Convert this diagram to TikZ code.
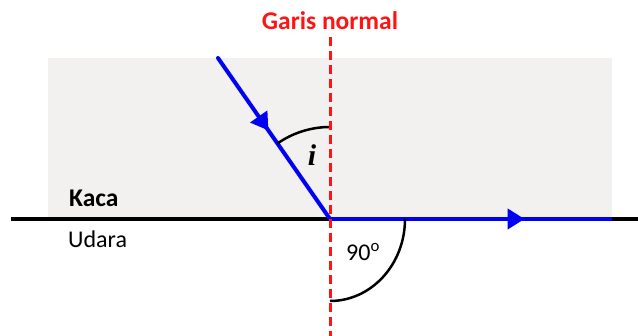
\documentclass[tikz,border=0pt]{standalone}
\usepackage{fontspec}
\setmainfont{Carlito}
\newfontfamily\mathitfont{Liberation Serif}
\usetikzlibrary{arrows.meta,decorations.markings,calc}
\definecolor{glass}{RGB}{242,241,240}
\definecolor{rayblue}{RGB}{0,0,245}
\definecolor{normred}{RGB}{255,20,20}
\begin{document}
\begin{tikzpicture}[x=1pt,y=1pt,
  ray/.style={draw=rayblue,line width=4pt},
  rayarrow/.style={postaction={decorate},decoration={markings,
     mark=at position #1 with {\arrow{Triangle[length=17pt,width=20pt]}}}},
  normalline/.style={draw=normred,line width=3pt,dash pattern=on 9pt off 5pt},
  anglearc/.style={draw=black,line width=2.5pt},
  lbl/.style={inner sep=0pt,font=\fontsize{24}{28}\selectfont}]
\useasboundingbox (0,0) rectangle (638,336);
\fill[glass] (48,117) rectangle (612,278);
\coordinate (O) at (330,117);
\coordinate (A) at (218,278);
\coordinate (L) at (11,117);
\coordinate (R) at (638,117);
\coordinate (E) at (612,117);
\coordinate (NT) at (330,299);
\coordinate (NB) at (330,0);
\draw[line width=4.5pt] (L) -- (R);
\draw[ray,rayblue,rayarrow=0.69] (O) -- (E);
\draw[ray,rayblue,rayarrow=0.45,line cap=round] (A) -- (O);
\draw[anglearc] ($(O)+(0,92)$) arc[start angle=90,end angle=125,radius=92];
\draw[anglearc] (405,117) arc[start angle=0,end angle=-90,x radius=75,y radius=82];
\draw[normalline] (NT) -- (NB);
\node[lbl,text=normred,font=\fontsize{25.5}{30}\selectfont\bfseries] (gn) at (330,315) {Garis normal};
\node[lbl,anchor=base west,font=\fontsize{25.5}{30}\selectfont\bfseries] (kaca) at (69,129) {Kaca};
\node[lbl,anchor=base west] (udara) at (68,88) {Udara};
\node[lbl,font=\fontsize{30}{34}\selectfont\mathitfont\itshape\bfseries] (i) at (312,181) {i};
\node[lbl,anchor=base west] (deg) at (346,75) {90\textsuperscript{o}};
\end{tikzpicture}
\end{document}
